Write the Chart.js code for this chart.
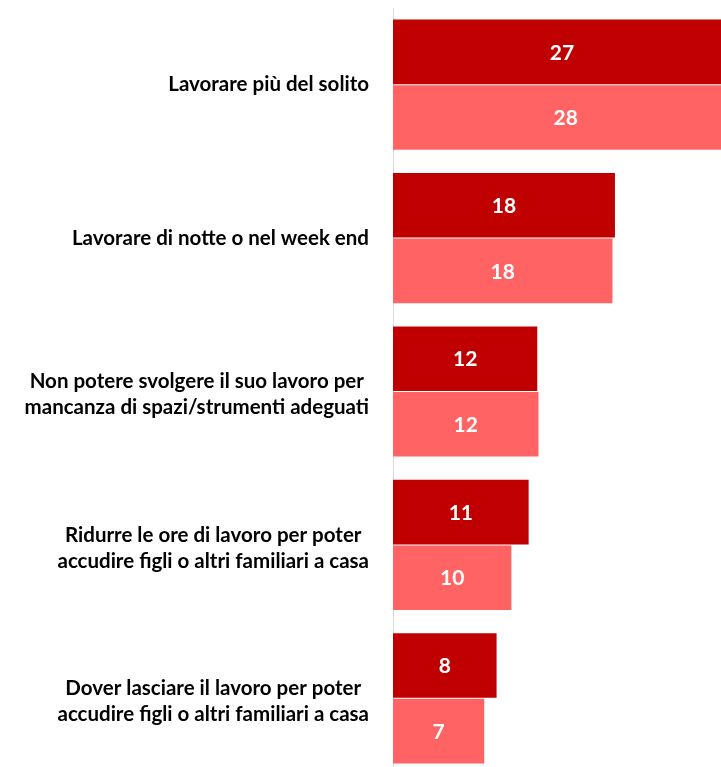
<!DOCTYPE html>
<html>
<head>
<meta charset="utf-8">
<script src="https://cdn.jsdelivr.net/npm/chart.js@4/dist/chart.umd.min.js"></script>
<style>
  html, body { margin: 0; padding: 0; background: #fff; overflow: hidden; }
  #wrap { width: 721px; height: 775px; }
</style>
</head>
<body>
<div id="wrap"><canvas id="chart" width="721" height="775"></canvas></div>
<script>
// --- Data ---
const categories = [
  ['Lavorare più del solito'],
  ['Lavorare di notte o nel week end'],
  ['Non potere svolgere il suo lavoro per', 'mancanza di spazi/strumenti adeguati'],
  ['Ridurre le ore di lavoro per poter', 'accudire figli o altri familiari a casa'],
  ['Dover lasciare il lavoro per poter', 'accudire figli o altri familiari a casa'],
];
const seriesDark = [27.4, 18.0, 11.7, 11.0, 8.4];
const seriesLight = [28.0, 17.8, 11.8, 9.6, 7.4];

// --- Style ---
const DARK = '#C00000';
const LIGHT = '#FF6363';
const FONT = 'Lato, "Open Sans", sans-serif';
const LABEL_RIGHT = 369;
const LINE_H = 26;

// category labels: block right-aligned, lines centred inside the block
const categoryLabels = {
  id: 'categoryLabels',
  afterDraw(chart) {
    const ctx = chart.ctx;
    const y = chart.scales.y;
    ctx.save();
    ctx.font = 'bold 20.5px ' + FONT;
    ctx.fillStyle = '#000';
    ctx.textAlign = 'center';
    ctx.textBaseline = 'middle';
    categories.forEach((lines, i) => {
      const yc = y.getPixelForValue(i);
      const w = Math.max(...lines.map((l) => ctx.measureText(l).width));
      const cx = LABEL_RIGHT - w / 2;
      lines.forEach((line, j) => {
        ctx.fillText(line, cx, yc + (j - (lines.length - 1) / 2) * LINE_H + (lines.length > 1 ? 3 : 0));
      });
    });
    ctx.restore();
  },
};

// value labels in the middle of each bar
const valueLabels = {
  id: 'valueLabels',
  afterDatasetsDraw(chart) {
    const ctx = chart.ctx;
    ctx.save();
    ctx.font = 'bold 21px ' + FONT;
    ctx.fillStyle = '#fff';
    ctx.textAlign = 'center';
    ctx.textBaseline = 'middle';
    chart.data.datasets.forEach((ds, di) => {
      chart.getDatasetMeta(di).data.forEach((bar, i) => {
        const x = (bar.x + bar.base) / 2;
        ctx.fillText(String(Math.round(ds.data[i])), x, bar.y + 1);
      });
    });
    ctx.restore();
  },
};

new Chart(document.getElementById('chart'), {
  type: 'bar',
  data: {
    labels: categories,
    datasets: [
      { data: seriesDark, backgroundColor: DARK },
      { data: seriesLight, backgroundColor: LIGHT },
    ],
  },
  options: {
    indexAxis: 'y',
    responsive: false,
    animation: false,
    layout: { padding: { top: 8, right: 0, bottom: 0, left: 0 } },
    datasets: { bar: { categoryPercentage: 0.855, barPercentage: 0.985 } },
    plugins: { legend: { display: false }, tooltip: { enabled: false } },
    scales: {
      x: { display: false, min: 0, max: 26.6 },
      y: {
        grid: { display: false },
        border: { display: true, color: '#D9D9D9', width: 1 },
        ticks: { display: false },
        afterFit(scale) { scale.width = 393; },
      },
    },
  },
  plugins: [categoryLabels, valueLabels],
});
</script>
</body>
</html>
